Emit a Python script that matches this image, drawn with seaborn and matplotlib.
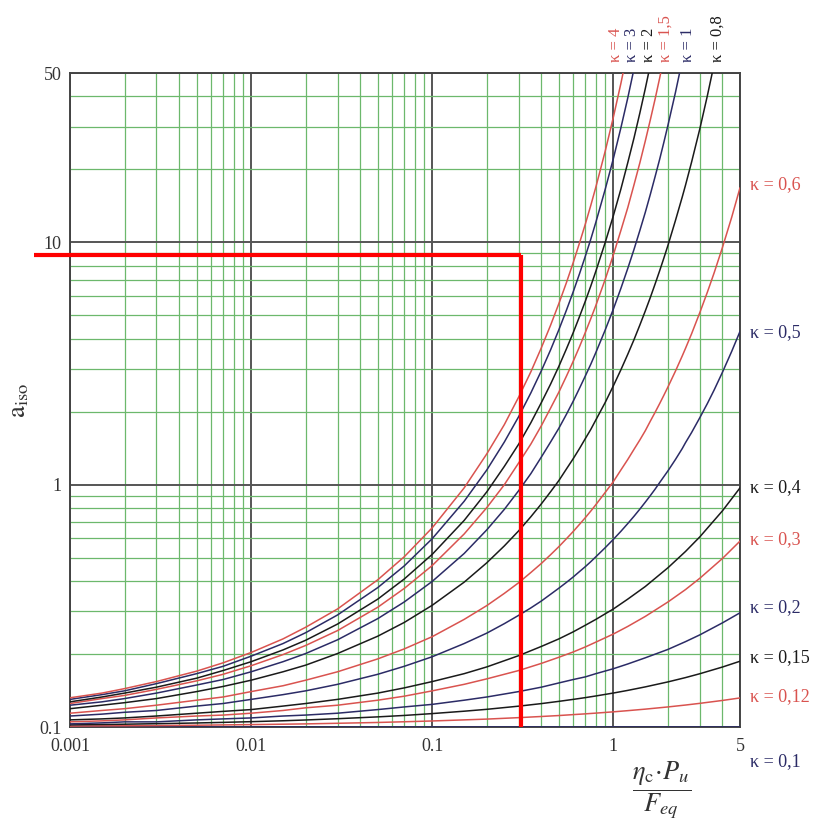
import matplotlib
matplotlib.use("Agg")
import matplotlib.pyplot as plt
import matplotlib.ticker as mticker
import seaborn as sns
import pandas as pd

# ---------------- data ----------------
x_vals = [0.001, 0.0015, 0.002, 0.003, 0.005, 0.007, 0.01, 0.015, 0.02, 0.03,
          0.05, 0.07, 0.1, 0.15, 0.2, 0.3, 0.4, 0.5, 0.6, 0.7, 0.8, 1, 1.2,
          1.5, 2, 2.5, 3, 4, 5]
# extra sampling positions on the steep part of the upper curves
x_ext = [0.25, 0.35, 0.45, 0.55, 0.65, 0.75, 0.9, 1.1, 1.3, 1.4, 1.6, 1.7,
         1.8, 1.9, 2.2, 2.4, 2.7, 3.3, 3.6, 4.5]

a_k010 = [0.1, 0.1]
x_k010 = [0.001, 5]
a_k012 = [0.1009, 0.1011, 0.1012, 0.1014, 0.1017, 0.102, 0.1023, 0.1027,
          0.103, 0.1036, 0.1044, 0.1051, 0.1059, 0.107, 0.1078, 0.1093,
          0.1105, 0.1115, 0.1125, 0.1133, 0.1141, 0.1155, 0.1168, 0.1185,
          0.121, 0.1232, 0.1252, 0.1287, 0.1318]
a_k015 = [0.1020, 0.1024, 0.1027, 0.1032, 0.1039, 0.1045, 0.1052, 0.1061,
          0.1069, 0.1082, 0.1101, 0.1116, 0.1136, 0.1162, 0.1183, 0.1219,
          0.1249, 0.1276, 0.13, 0.1322, 0.1343, 0.1381, 0.1416, 0.1464,
          0.1535, 0.1599, 0.1659, 0.1768, 0.1868]
a_k02 = [0.103, 0.104, 0.105, 0.105, 0.107, 0.108, 0.109, 0.111, 0.112, 0.114,
         0.118, 0.121, 0.124, 0.129, 0.133, 0.14, 0.146, 0.152, 0.157, 0.161,
         0.166, 0.174, 0.182, 0.193, 0.209, 0.225, 0.24, 0.269, 0.296]
a_k03 = [0.105, 0.106, 0.107, 0.109, 0.111, 0.112, 0.114, 0.117, 0.12, 0.123,
         0.129, 0.134, 0.141, 0.15, 0.158, 0.171, 0.183, 0.194, 0.204, 0.214,
         0.224, 0.242, 0.26, 0.286, 0.328, 0.369, 0.411, 0.496, 0.585]
a_k04 = [0.107, 0.108, 0.109, 0.111, 0.114, 0.116, 0.118, 0.122, 0.125, 0.13,
         0.138, 0.145, 0.154, 0.166, 0.177, 0.197, 0.215, 0.231, 0.247, 0.263,
         0.278, 0.307, 0.337, 0.38, 0.454, 0.53, 0.609, 0.78, 0.97]
a_k05 = [0.111, 0.113, 0.115, 0.117, 0.122, 0.125, 0.13, 0.136, 0.141, 0.15,
         0.165, 0.178, 0.195, 0.221, 0.244, 0.289, 0.331, 0.374, 0.416, 0.459,
         0.504, 0.595, 0.691, 0.847, 1.14, 1.49, 1.89, 2.91, 4.29]
a_k05_ext = [0.267, 0.31, 0.353, 0.395, 0.438, 0.481, 0.549, 0.642, 0.741,
             0.793, 0.902, 0.959, 1.02, 1.08, 1.27, 1.41, 1.64, 2.16, 2.46, 3.55]
a_k06 = [0.114, 0.117, 0.119, 0.123, 0.129, 0.133, 0.14, 0.148, 0.156, 0.169,
         0.191, 0.21, 0.236, 0.278, 0.317, 0.394, 0.473, 0.555, 0.641, 0.731,
         0.827, 1.03, 1.27, 1.67, 2.53, 3.65, 5.13, 9.53, 16.8]
a_k06_ext = [0.356, 0.434, 0.514, 0.598, 0.686, 0.778, 0.928, 1.15, 1.4, 1.53,
             1.83, 1.99, 2.16, 2.34, 2.94, 3.4, 4.19, 6.22, 7.49, 12.7]
a_k08 = [0.119, 0.123, 0.126, 0.131, 0.14, 0.147, 0.156, 0.169, 0.18, 0.201,
         0.237, 0.27, 0.318, 0.396, 0.476, 0.645, 0.833, 1.04, 1.28, 1.55, 1.85,
         2.56, 3.45, 5.21, 9.71, 17.2, 29.4, 81.1]
a_k08_ext = [0.559, 0.737, 0.935, 1.16, 1.41, 1.69, 2.18, 2.98, 3.97, 4.56,
             5.93, 6.74, 7.63, 8.62, 12.3, 15.4, 21.4, 40.2, 54.5]
a_k1 = [0.123, 0.127, 0.131, 0.138, 0.149, 0.157, 0.169, 0.186, 0.201, 0.229,
        0.28, 0.328, 0.399, 0.52, 0.651, 0.945, 1.3, 1.71, 2.21, 2.81, 3.51,
        5.31, 7.8, 13.3, 30.4, 65.7]
a_k1_ext = [0.791, 1.11, 1.5, 1.95, 2.5, 3.14, 4.34, 6.46, 9.36, 11.2, 15.8,
            18.7, 22, 25.9, 41.5, 56.4]
a_k15 = [0.125, 0.131, 0.135, 0.143, 0.155, 0.165, 0.179, 0.199, 0.217, 0.25,
         0.312, 0.373, 0.464, 0.626, 0.804, 1.23, 1.75, 2.41, 3.23, 4.25, 5.49,
         8.89, 13.9, 26.2, 70.1]
a_k15_ext = [1, 1.47, 2.07, 2.8, 3.71, 4.84, 7.02, 11.2, 17.3, 21.3, 32.1,
             39.1, 47.6, 57.8]
a_k2 = [0.127, 0.133, 0.138, 0.146, 0.159, 0.171, 0.186, 0.208, 0.228, 0.266,
        0.337, 0.408, 0.516, 0.712, 0.934, 1.47, 2.18, 3.08, 4.24, 5.72, 7.6,
        12.9, 21.3, 43.1, 131]
a_k2_ext = [1.19, 1.8, 2.6, 3.63, 4.94, 6.6, 9.96, 16.6, 27, 34.2, 54.1]
a_k3 = [0.13, 0.136, 0.141, 0.151, 0.166, 0.178, 0.196, 0.221, 0.245, 0.29,
        0.376, 0.462, 0.599, 0.854, 1.15, 1.91, 2.95, 4.36, 6.25, 8.77, 12.1,
        22.2, 39.4, 89.7]
a_k3_ext = [1.5, 2.39, 3.6, 5.24, 7.42, 10.3, 16.5, 29.7, 52.1]
a_k4 = [0.132, 0.138, 0.144, 0.154, 0.17, 0.184, 0.203, 0.231, 0.258, 0.307,
        0.405, 0.504, 0.664, 0.97, 1.34, 2.3, 3.67, 5.59, 8.25, 11.9, 16.9,
        32.9, 62]
a_k4_ext = [1.77, 2.92, 4.55, 6.81, 9.94, 14.2, 23.7, 45.3, 84.3]

curves = [("0,1", x_k010, a_k010, []), ("0,12", x_vals, a_k012, []),
          ("0,15", x_vals, a_k015, []), ("0,2", x_vals, a_k02, []),
          ("0,3", x_vals, a_k03, []), ("0,4", x_vals, a_k04, []),
          ("0,5", x_vals, a_k05, a_k05_ext), ("0,6", x_vals, a_k06, a_k06_ext),
          ("0,8", x_vals, a_k08, a_k08_ext), ("1", x_vals, a_k1, a_k1_ext),
          ("1,5", x_vals, a_k15, a_k15_ext), ("2", x_vals, a_k2, a_k2_ext),
          ("3", x_vals, a_k3, a_k3_ext), ("4", x_vals, a_k4, a_k4_ext)]

curve_colors = {"0,1": "#2b2b66", "0,12": "#d9534f", "0,15": "#1a1a1a",
                "0,2": "#2b2b66", "0,3": "#d9534f", "0,4": "#1a1a1a",
                "0,5": "#2b2b66", "0,6": "#d9534f", "0,8": "#1a1a1a",
                "1": "#2b2b66", "1,5": "#d9534f", "2": "#1a1a1a",
                "3": "#2b2b66", "4": "#d9534f"}

x_ticks = [0.001, 0.01, 0.1, 1, 5]
x_ticklabels = ["0.001", "0.01", "0.1", "1", "5"]
y_ticks = [0.1, 1, 10, 50]
y_ticklabels = ["0.1", "1", "10", "50"]

guide_x = 0.31
guide_y = 8.9
guide_x_left = 6.3e-4

right_labels = [("0,6", 185), ("0,5", 333), ("0,4", 488), ("0,3", 540),
                ("0,2", 608), ("0,15", 658), ("0,12", 697), ("0,1", 762)]
top_labels = [("4", 616), ("3", 632), ("2", 649), ("1,5", 666), ("1", 688),
              ("0,8", 718)]

# ---------------- figure ----------------
sns.set_theme(style="white")
plt.rcParams["font.family"] = ["Liberation Serif", "DejaVu Serif"]
plt.rcParams["mathtext.fontset"] = "stix"

W, H = 819, 825
fig = plt.figure(figsize=(W / 100, H / 100), dpi=100)
ax = fig.add_axes([70 / W, 1 - 727 / H, 670 / W, 654 / H])

rows = []
for name, xs, ys, ys_ext in curves:
    for xv, yv in zip(xs, ys):
        rows.append({"x": xv, "a": yv, "k": name})
    for xv, yv in zip(x_ext, ys_ext):
        rows.append({"x": xv, "a": yv, "k": name})
df = pd.DataFrame(rows)

sns.lineplot(data=df, x="x", y="a", hue="k", palette=curve_colors,
             estimator=None, sort=True, linewidth=1.1, legend=False, ax=ax,
             zorder=3)

ax.set_xscale("log")
ax.set_yscale("log")
ax.set_xlim(0.001, 5)
ax.set_ylim(0.1, 50)

ax.xaxis.set_major_locator(mticker.FixedLocator(x_ticks))
ax.xaxis.set_major_formatter(mticker.FixedFormatter(x_ticklabels))
ax.yaxis.set_major_locator(mticker.FixedLocator(y_ticks))
ax.yaxis.set_major_formatter(mticker.FixedFormatter(y_ticklabels))
ax.xaxis.set_minor_locator(mticker.LogLocator(base=10, subs=range(2, 10), numticks=20))
ax.yaxis.set_minor_locator(mticker.LogLocator(base=10, subs=range(2, 10), numticks=20))
ax.xaxis.set_minor_formatter(mticker.NullFormatter())
ax.yaxis.set_minor_formatter(mticker.NullFormatter())

ax.grid(which="minor", color="#6cb86c", linewidth=0.9, zorder=1)
ax.grid(which="major", color="#555555", linewidth=1.4, zorder=2)
ax.set_axisbelow(True)
ax.tick_params(which="both", length=0, labelsize=13, labelcolor="#333333")
ax.tick_params(axis="x", pad=8)
ax.tick_params(axis="y", pad=6)
for s in ax.spines.values():
    s.set_color("#444444")
    s.set_linewidth(1.4)

ax.set_xlabel("")
ax.set_ylabel(r"$\mathrm{a}_{\mathrm{iso}}$", fontsize=19, color="#333333")
ax.yaxis.set_label_coords(-0.058, 0.5)

# red reading guide
ax.plot([guide_x_left, guide_x], [guide_y, guide_y], color="red", lw=3,
        clip_on=False, zorder=5, solid_capstyle="butt")
ax.plot([guide_x, guide_x], [guide_y, 0.1], color="red", lw=3,
        clip_on=False, zorder=5, solid_capstyle="butt")

for lab, ypx in right_labels:
    fig.text(750 / W, 1 - ypx / H, "κ = " + lab, fontsize=13,
             color=curve_colors[lab], ha="left", va="center")
for lab, xpx in top_labels:
    fig.text(xpx / W, 1 - 62 / H, "κ = " + lab, fontsize=12, rotation=90,
             color=curve_colors[lab], ha="center", va="bottom")

fig.text(662 / W, 1 - 790 / H,
         r"$\dfrac{\eta_{\mathrm{c}}\!\cdot\! P_u}{F_{eq}}$",
         fontsize=19, color="#333333", ha="center", va="center")

fig.savefig("out.png", dpi=100)
